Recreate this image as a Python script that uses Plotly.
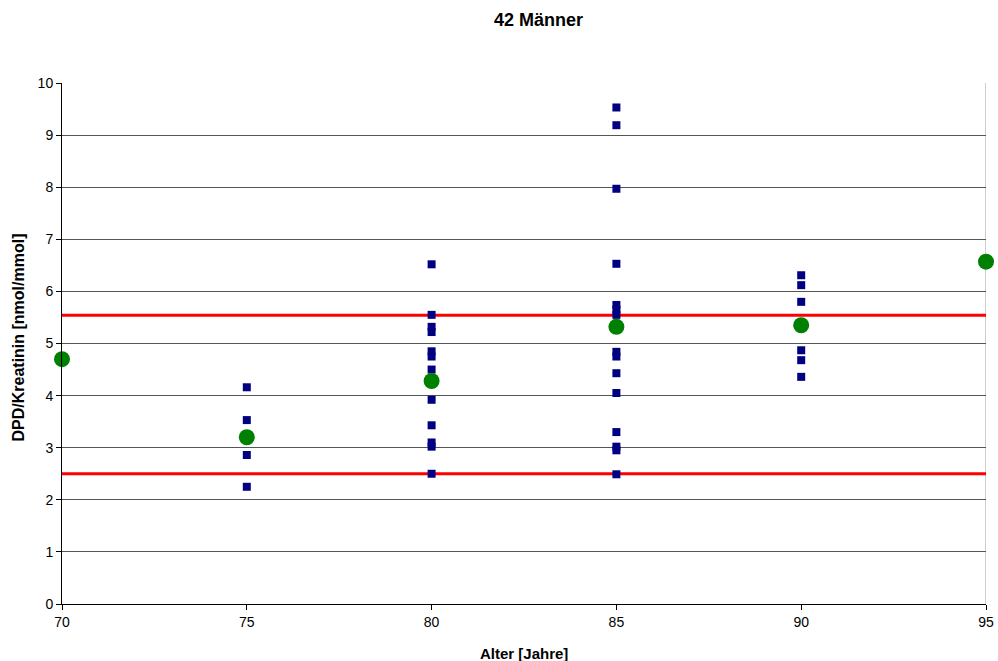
import plotly.graph_objects as go

# Individual measurements (age group, DPD/Kreatinin)
age_75 = [4.16, 3.53, 2.86, 2.25]
age_80 = [6.52, 5.55, 5.32, 5.22, 4.85, 4.75, 4.50, 3.92, 3.43, 3.10, 3.02, 2.50]
age_85 = [9.53, 9.19, 7.97, 6.53, 5.74, 5.65, 5.55, 4.84, 4.75, 4.43, 4.05, 3.30, 3.02, 2.95, 2.49]
age_90 = [6.31, 6.12, 5.80, 4.87, 4.68, 4.36]

# Group means
mean_x = [70, 75, 80, 85, 90, 95]
mean_y = [4.70, 3.20, 4.28, 5.32, 5.35, 6.57]

# Reference range limits
ref_upper = 5.54
ref_lower = 2.50
x_range = [70, 95]

pts_x = [75] * len(age_75) + [80] * len(age_80) + [85] * len(age_85) + [90] * len(age_90)
pts_y = age_75 + age_80 + age_85 + age_90

fig = go.Figure()
fig.add_trace(go.Scatter(x=x_range, y=[ref_upper, ref_upper], mode="lines",
                         line=dict(color="#ff0000", width=3), cliponaxis=False, showlegend=False))
fig.add_trace(go.Scatter(x=x_range, y=[ref_lower, ref_lower], mode="lines",
                         line=dict(color="#ff0000", width=3), cliponaxis=False, showlegend=False))
fig.add_trace(go.Scatter(x=pts_x, y=pts_y, mode="markers",
                         marker=dict(symbol="square", size=8, color="#000080"),
                         cliponaxis=False, showlegend=False))
fig.add_trace(go.Scatter(x=mean_x, y=mean_y, mode="markers",
                         marker=dict(symbol="circle", size=16, color="#008000"),
                         cliponaxis=False, showlegend=False))

W, H = 998, 661
L, R, T, B = 62, 12, 83, 57
pw, ph = W - L - R, H - T - B

font = "Liberation Sans, Arial, sans-serif"
fig.update_layout(
    width=W, height=H,
    margin=dict(l=L, r=R, t=T, b=B, autoexpand=False),
    paper_bgcolor="white", plot_bgcolor="white",
    font=dict(family=font, size=14, color="black"),
    title=dict(text="<b>42 Männer</b>", x=538.5 / W, xref="container", xanchor="center",
               y=1 - 20 / H, yref="container", yanchor="middle",
               font=dict(size=18, family=font, color="black")),
    xaxis=dict(range=x_range, tickvals=mean_x, ticks="outside", ticklen=5,
               tickcolor="black", showline=True, linecolor="black", linewidth=1,
               showgrid=False, zeroline=False, mirror=False, automargin=False,
               tickfont=dict(size=14)),
    yaxis=dict(range=[0, 10], dtick=1, ticks="outside", ticklen=5, tickcolor="black",
               showline=True, linecolor="black", linewidth=1, automargin=False,
               showgrid=True, gridcolor="#555555", gridwidth=1, zeroline=False,
               tickfont=dict(size=14)),
    shapes=[dict(type="line", xref="x", yref="paper", x0=95, x1=95, y0=0, y1=1,
                 line=dict(color="#a0a0a0", width=1), layer="below")],
    annotations=[
        dict(text="<b>Alter [Jahre]</b>", xref="paper", yref="paper", x=0.5, y=-49 / ph,
             xanchor="center", yanchor="middle", showarrow=False, font=dict(size=15)),
        dict(text="<b>DPD/Kreatinin [nmol/mmol]</b>", xref="paper", yref="paper",
             x=-44 / pw, y=(604 - 337.5) / ph, xanchor="center", yanchor="middle",
             textangle=-90, showarrow=False, font=dict(size=16)),
    ],
)

fig.write_html("out.html",
               config={"displayModeBar": False},
               post_script="document.body.style.margin='0';document.body.style.overflow='hidden';")
